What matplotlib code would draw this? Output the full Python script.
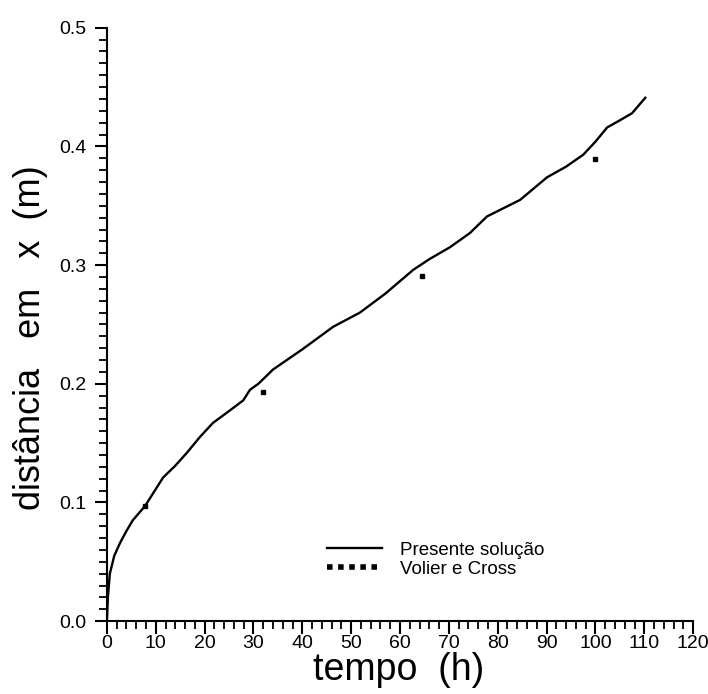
import matplotlib

matplotlib.use("Agg")
import matplotlib.pyplot as plt
from matplotlib.lines import Line2D
from matplotlib.ticker import FormatStrFormatter, MultipleLocator

plt.rcParams["font.family"] = ["Liberation Sans", "DejaVu Sans"]

# Presente solução (curva)
tempo_sol = [0.0, 0.2, 0.6, 1.5, 2.7, 4.0, 5.3, 7.8, 9.5, 11.5, 14.0, 16.4,
             19.0, 21.7, 25.0, 27.9, 29.3, 31.0, 34.0, 40.0, 46.3, 51.8,
             57.0, 62.7, 66.0, 70.2, 74.3, 77.8, 84.6, 90.1, 94.0, 97.5,
             100.0, 102.4, 105.0, 107.5, 110.2]
dist_sol = [0.0, 0.020, 0.040, 0.055, 0.066, 0.076, 0.085, 0.097, 0.108,
            0.121, 0.131, 0.142, 0.155, 0.167, 0.177, 0.186, 0.195, 0.200,
            0.212, 0.229, 0.248, 0.260, 0.276, 0.296, 0.305, 0.315, 0.327,
            0.341, 0.355, 0.374, 0.383, 0.393, 0.404, 0.416, 0.422, 0.428,
            0.441]

# Volier e Cross (pontos)
tempo_vc = [7.8, 32.0, 64.5, 99.9]
dist_vc = [0.097, 0.193, 0.291, 0.389]

fig = plt.figure(figsize=(7.08, 6.94), dpi=100)
ax = fig.add_axes([0.151, 0.105, 0.828, 0.855])

ax.plot(tempo_sol, dist_sol, color="black", lw=1.7, label="Presente solução")
ax.plot(tempo_vc, dist_vc, ls="none", marker="s", ms=3.5, color="black",
        label="Volier e Cross")

ax.set_xlim(0, 120)
ax.set_ylim(0, 0.5)
ax.spines["top"].set_visible(False)
ax.spines["right"].set_visible(False)
ax.spines["left"].set_linewidth(1.5)
ax.spines["bottom"].set_linewidth(1.5)

ax.xaxis.set_major_locator(MultipleLocator(10))
ax.xaxis.set_minor_locator(MultipleLocator(2))
ax.yaxis.set_major_locator(MultipleLocator(0.1))
ax.yaxis.set_minor_locator(MultipleLocator(0.01))
ax.yaxis.set_major_formatter(FormatStrFormatter("%.1f"))
ax.tick_params(which="major", length=9, width=1.5, labelsize=14)
ax.tick_params(axis="x", which="major", pad=1)
ax.tick_params(axis="y", which="major", pad=6)
ax.tick_params(which="minor", length=6, width=1.3)

ax.set_xlabel("tempo  (h)", fontsize=27)
ax.xaxis.set_label_coords(0.497, -0.052)
ax.set_ylabel("distância   em   x  (m)", fontsize=26)
ax.yaxis.set_label_coords(-0.101, 0.477)

handles, labels = ax.get_legend_handles_labels()
vc_handle = Line2D([0], [0], ls=(0, (1, 1)), lw=4, color="black")
ax.legend([handles[0], vc_handle], labels, loc="upper left",
          bbox_to_anchor=(0.36, 0.15), frameon=False, fontsize=13.5,
          handlelength=2.9, handletextpad=1.0, labelspacing=0.1,
          borderpad=0)

fig.savefig("out.png", dpi=100)
plt.close(fig)
